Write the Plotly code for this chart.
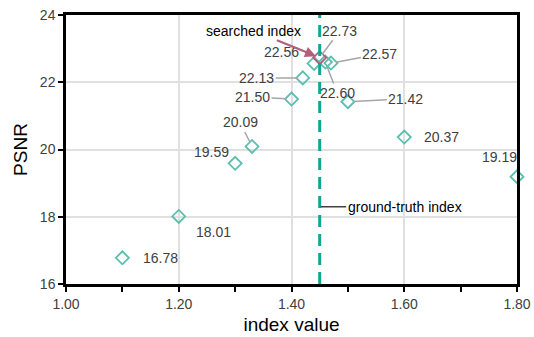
import plotly.graph_objects as go

# ---- data ----
index_values = [1.10, 1.20, 1.30, 1.33, 1.40, 1.42, 1.44, 1.46, 1.47, 1.50, 1.60, 1.80]
psnr_values = [16.78, 18.01, 19.59, 20.09, 21.50, 22.13, 22.56, 22.60, 22.57, 21.42, 20.37, 19.19]
searched_x = [1.45]
searched_psnr = [22.73]
ground_truth_x = 1.45

# label placement (pixel offsets of text centre from point) and leader-line flags
label_dx = [38, 35, -24, -12, -39, -46, -33, 12, 49, 58, 37, -18]
label_dy = [0, 16, -11, -24, -2, 0, -11, 31, -9, -3, 0, -20]
label_line = [False, False, False, True, True, True, False, True, True, True, False, False]
searched_dx, searched_dy = 20, -27

TEAL = "#5bbfae"
DASH = "#12a594"
RED = "#b0607a"
LABEL = "#404040"
FONT = "Liberation Sans, Arial, sans-serif"
ANN_SIZE = 14

fig = go.Figure()

fig.add_trace(go.Scatter(
    x=index_values, y=psnr_values, mode="markers",
    marker=dict(symbol="diamond-open", size=10, color=TEAL, line=dict(width=1.8, color=TEAL)),
    showlegend=False, cliponaxis=False, hoverinfo="skip",
))

fig.add_trace(go.Scatter(
    x=searched_x, y=searched_psnr, mode="markers",
    marker=dict(symbol="diamond-open", size=10, color=RED, line=dict(width=1.8, color=RED)),
    showlegend=False, cliponaxis=False, hoverinfo="skip",
))

fig.add_shape(type="line", x0=ground_truth_x, x1=ground_truth_x, y0=16, y1=24,
              xref="x", yref="y",
              line=dict(color=DASH, width=3, dash="12px,7px"))

annotations = []
for xv, yv, dx, dy, ln in zip(index_values, psnr_values, label_dx, label_dy, label_line):
    a = dict(x=xv, y=yv, xref="x", yref="y", text=f"{yv:.2f}",
             font=dict(family=FONT, size=ANN_SIZE, color=LABEL))
    if ln:
        a.update(showarrow=True, arrowhead=0, arrowwidth=1.5, arrowcolor="#a6a6a6",
                 ax=dx, ay=dy, standoff=5)
    else:
        a.update(showarrow=False, xshift=dx, yshift=-dy)
    annotations.append(a)

annotations.append(dict(x=searched_x[0], y=searched_psnr[0], xref="x", yref="y",
                        text=f"{searched_psnr[0]:.2f}", showarrow=True, arrowhead=0,
                        arrowwidth=1.5, arrowcolor="#a6a6a6", ax=searched_dx, ay=searched_dy,
                        standoff=4, font=dict(family=FONT, size=ANN_SIZE, color=LABEL)))

annotations.append(dict(x=searched_x[0], y=searched_psnr[0], xref="x", yref="y",
                        text="searched index", showarrow=True, arrowhead=2, arrowsize=1,
                        arrowwidth=2.2, arrowcolor=RED, ax=-66, ay=-27, standoff=4,
                        font=dict(family=FONT, size=ANN_SIZE, color="#000000")))

annotations.append(dict(x=ground_truth_x, y=18.3, xref="x", yref="y",
                        text="ground-truth index", showarrow=True, arrowhead=0,
                        arrowwidth=1.5, arrowcolor="#404040", ax=85, ay=0, standoff=1,
                        font=dict(family=FONT, size=ANN_SIZE, color="#000000")))

fig.update_layout(
    width=534, height=337, autosize=False,
    margin=dict(l=66, r=17, t=15, b=53, pad=0, autoexpand=False),
    plot_bgcolor="white", paper_bgcolor="white",
    font=dict(family=FONT, color=LABEL),
    annotations=annotations,
    hovermode=False,
)

fig.update_xaxes(
    range=[1.0, 1.8], dtick=0.2, tick0=1.0, tickformat=".2f", automargin=False,
    showline=True, linecolor="black", linewidth=2.5, mirror=True,
    ticks="outside", ticklen=5, tickwidth=2, tickcolor="black",
    minor=dict(dtick=0.1, ticks="outside", ticklen=5, tickwidth=2, tickcolor="black", showgrid=False),
    showgrid=True, gridcolor="#e0e0e0", gridwidth=1.5,
    tickfont=dict(family=FONT, size=14, color=LABEL),
    title=dict(text="index value", font=dict(family=FONT, size=19, color="black"), standoff=8),
    zeroline=False,
)
fig.update_yaxes(
    range=[16, 24], dtick=2, automargin=False,
    showline=True, linecolor="black", linewidth=2.5, mirror=True,
    ticks="outside", ticklen=5, tickwidth=2, tickcolor="black",
    showgrid=True, gridcolor="#e0e0e0", gridwidth=1.5,
    tickfont=dict(family=FONT, size=14, color=LABEL),
    title=dict(text="PSNR", font=dict(family=FONT, size=19, color="black"), standoff=8),
    zeroline=False,
)

fig.write_html("out.html", config={"displayModeBar": False},
               post_script="document.body.style.margin='0';")
